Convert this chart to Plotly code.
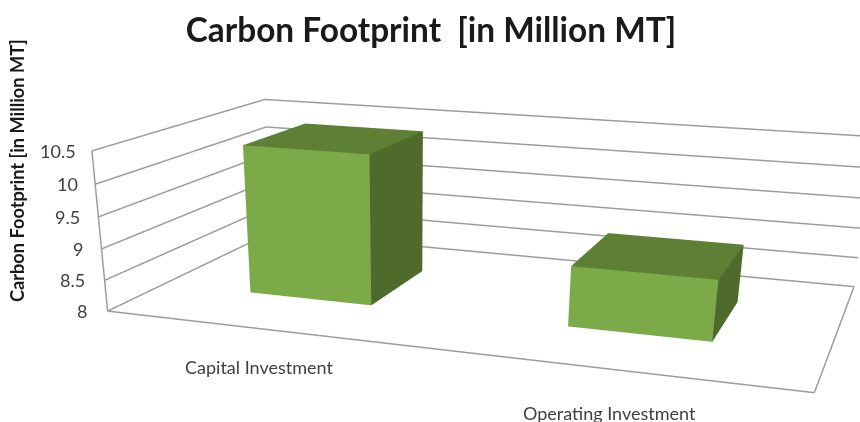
import plotly.graph_objects as go

# Carbon footprint per investment type, in million metric tons
categories = ["Capital Investment", "Operating Investment"]
footprint = [10.4, 8.95]
value_ticks = [8, 8.5, 9, 9.5, 10, 10.5]
value_tick_labels = ["8", "8.5", "9", "9.5", "10", "10.5"]

chart_title = "Carbon Footprint  [in Million MT]"
axis_title = "Carbon Footprint [in Million MT]"

# Bar footprint on the floor of the box (axis units run 0..1 across and in depth)
BAR_CENTERS = [0.2445, 0.7435]
BAR_HALF_WIDTHS = [0.0987, 0.1015]
BAR_DEPTH = (0.3103, 0.7112)
FACE_COLORS = {"front": "#7CAA49", "top": "#5E8034", "side": "#4F6B2B"}
WALL_COLOR = "#A09B99"
TEXT_COLOR = "#3F3F3F"

# A tall canvas gives the scene a long focal length; only the top part is on show.
CANVAS_W, CANVAS_H = 860, 1172
Z_FLOOR, Z_TOP = value_ticks[0], value_ticks[-1]
# Small allowance so lines lying on the box edges are not clipped by the axis bounds
Z_PAD, XY_PAD = 0.005, 0.001


def paper_y(pixels_from_top):
    return 1 - pixels_from_top / CANVAS_H


def bar_mesh(center, half_width, value):
    x0, x1 = center - half_width, center + half_width
    y0, y1 = BAR_DEPTH
    xs = [x0, x1, x1, x0, x0, x1, x1, x0]
    ys = [y0, y0, y1, y1, y0, y0, y1, y1]
    zs = [Z_FLOOR] * 4 + [value] * 4
    faces = [
        ((0, 1, 5), "front"), ((0, 5, 4), "front"),
        ((4, 5, 6), "top"), ((4, 6, 7), "top"),
        ((1, 2, 6), "side"), ((1, 6, 5), "side"),
    ]
    return go.Mesh3d(
        x=xs, y=ys, z=zs,
        i=[f[0][0] for f in faces],
        j=[f[0][1] for f in faces],
        k=[f[0][2] for f in faces],
        facecolor=[FACE_COLORS[f[1]] for f in faces],
        flatshading=True,
        lighting=dict(ambient=1, diffuse=0, specular=0, roughness=1, fresnel=0),
        hoverinfo="skip",
        showscale=False,
    )


def wall_line(xs, ys, zs):
    return go.Scatter3d(
        x=xs, y=ys, z=zs, mode="lines",
        line=dict(color=WALL_COLOR, width=3),
        hoverinfo="skip", showlegend=False,
    )


fig = go.Figure()

for center, half_width, value in zip(BAR_CENTERS, BAR_HALF_WIDTHS, footprint):
    fig.add_trace(bar_mesh(center, half_width, value))

# Value rules around the left and back walls
for t in value_ticks:
    fig.add_trace(wall_line([0, 0, 1], [0, 1, 1], [t, t, t]))
# Remaining floor edges and the front-left upright
fig.add_trace(wall_line([0, 1], [0, 0], [Z_FLOOR, Z_FLOOR]))
fig.add_trace(wall_line([1, 1], [0, 1], [Z_FLOOR, Z_FLOOR]))
fig.add_trace(wall_line([0, 0], [0, 0], [Z_FLOOR, Z_TOP]))

# Tick labels hug the slanted front-left upright a little more loosely toward the floor
tick_notes = [
    dict(x=0, y=0, z=t, text=label, showarrow=False, xanchor="right",
         xshift=-14 - (Z_TOP - t) * 2, yshift=0,
         font=dict(family="Lato", size=18, color=TEXT_COLOR))
    for t, label in zip(value_ticks, value_tick_labels)
]
category_notes = [
    dict(x=c, y=0, z=Z_FLOOR, text=name, showarrow=False, xshift=dx, yshift=dy,
         font=dict(family="Lato", size=18, color=TEXT_COLOR))
    for c, name, dx, dy in zip(BAR_CENTERS, categories, (-1, -1), (-38, -44))
]

hidden_axis = dict(
    range=[-XY_PAD, 1 + XY_PAD], showgrid=False, showticklabels=False, showline=False,
    zeroline=False, showbackground=False, showspikes=False, ticks="", title="",
)

fig.update_layout(
    width=CANVAS_W, height=CANVAS_H, autosize=False,
    margin=dict(l=0, r=0, t=0, b=0),
    paper_bgcolor="white",
    showlegend=False,
    title=dict(
        text=chart_title, x=431 / CANVAS_W, xanchor="center",
        y=paper_y(30), yanchor="middle",
        font=dict(family="Lato", size=33.4, color="#1A1A1A", weight="bold"),
    ),
    annotations=[dict(
        text=f"<b>{axis_title}</b>", xref="paper", yref="paper",
        x=17.5 / CANVAS_W, y=paper_y(170.5), xanchor="center", yanchor="middle",
        textangle=-90, showarrow=False,
        font=dict(family="Lato", size=18.2, color="#1A1A1A"),
    )],
    scene=dict(
        domain=dict(x=[0, 1], y=[0, 1]),
        dragmode="orbit",
        aspectmode="manual",
        aspectratio=dict(x=2, y=1.0785, z=0.45),
        camera=dict(
            eye=dict(x=1.241, y=-3.9835, z=0.9074),
            center=dict(x=-0.1969, y=0, z=-1.2222),
            up=dict(x=-0.0039, y=-0.0084, z=1),
            projection=dict(type="perspective"),
        ),
        xaxis=hidden_axis,
        yaxis=hidden_axis,
        zaxis=dict(
            range=[Z_FLOOR - Z_PAD, Z_TOP + Z_PAD], tickvals=value_ticks, showticklabels=False,
            showgrid=False, showline=False,
            zeroline=False, showbackground=False, showspikes=False, ticks="", title="",
        ),
        annotations=tick_notes + category_notes,
    ),
)

fig.write_html(
    "out.html",
    config=dict(displayModeBar=False),
    post_script=(
        "document.documentElement.style.overflow='hidden';"
        "document.body.style.overflow='hidden';"
    ),
)
